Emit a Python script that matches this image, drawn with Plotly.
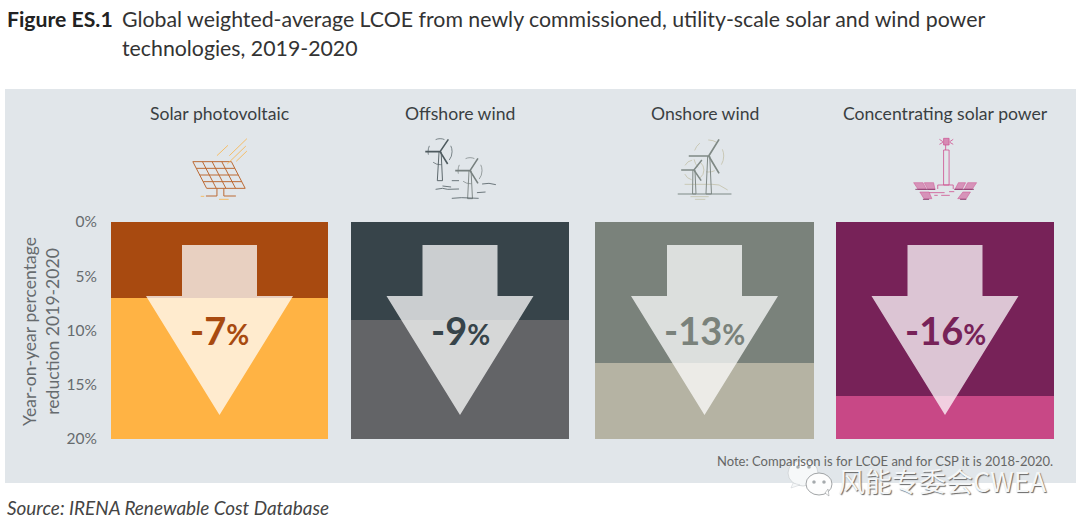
import plotly.graph_objects as go

categories = ["Solar photovoltaic", "Offshore wind", "Onshore wind", "Concentrating solar power"]
reductions = [7, 9, 13, 16]
axis_max = 20
y_ticks = [0, 5, 10, 15, 20]
y_tick_labels = ["0%", "5%", "10%", "15%", "20%"]
dark_colors = ["#A84A10", "#37444A", "#7A827B", "#772258"]
light_colors = ["#FFB344", "#636467", "#B5B3A3", "#C84886"]

W, H = 1080, 527
bar_px = [(111, 328), (351, 569), (595, 814), (836, 1054)]
top_px, bot_px = 222, 439
FONT = "Lato"
GREY = "#666B6E"


def px(x):
    return x / W


def py(y):
    return 1 - y / H


def path(pts, close=False):
    s = "M" + " L".join(f"{px(x):.5f},{py(y):.5f}" for x, y in pts)
    return s + (" Z" if close else "")


shapes = []


def line_shape(segs, color, width=1.0):
    d = " ".join(path(s) for s in segs)
    shapes.append(dict(type="path", path=d, xref="paper", yref="paper",
                       line=dict(color=color, width=width), layer="above"))


def poly(pts, fill, color=None, width=0):
    shapes.append(dict(type="path", path=path(pts, True), xref="paper", yref="paper",
                       fillcolor=fill, line=dict(color=color or fill, width=width), layer="above"))


def circ(cx, cy, rx, ry, color, width=0.8, dash="solid", fill="rgba(0,0,0,0)"):
    shapes.append(dict(type="circle", xref="paper", yref="paper",
                       x0=px(cx - rx), x1=px(cx + rx), y0=py(cy + ry), y1=py(cy - ry),
                       fillcolor=fill, line=dict(color=color, width=width, dash=dash), layer="above"))


# background panel
shapes.append(dict(type="rect", xref="paper", yref="paper", x0=px(5), x1=px(1076), y0=py(483), y1=py(89),
                   fillcolor="#E1E6EA", line=dict(width=0), layer="below"))

# arrows
for (a, b) in bar_px:
    c = (a + b) / 2
    poly([(c - 37.5, 245), (c + 37.5, 245), (c + 37.5, 296), (c + 73.5, 296), (c, 415),
          (c - 73.5, 296), (c - 37.5, 296)], "rgba(255,255,255,0.74)")


# zoom-space helpers
def Z(ox):
    return lambda x, y: (x / 2.904 + ox, y / 3 + 90)


# solar icon
z = Z(0)
OR = "#BC6A34"
YL = "#F6B858"
corners = ((560, 215), (672, 215), (712, 295), (600, 295))
segs = [[z(*p) for p in corners + (corners[0],)]]
for t in (0.25, 0.5, 0.75):
    x0 = 560 + t * 112
    segs.append([z(x0, 215), z(x0 + 40, 295)])
for t in (0.25, 0.5, 0.75):
    x0 = 560 + t * 40
    yy = 215 + t * 80
    segs.append([z(x0, yy), z(x0 + 112, yy)])
segs += [[z(630, 295), z(630, 318), z(598, 318)], [z(650, 295), z(650, 318), z(685, 318)]]
line_shape(segs, OR, 1.0)
line_shape([[z(630, 197), z(662, 166)], [z(666, 197), z(717, 146)], [z(660, 222), z(714, 168)],
            [z(686, 214), z(717, 183)], [z(583, 319), z(593, 319)], [z(636, 328), z(664, 328)]], YL, 0.9)


def turbine(z, hub, blades, base, color, bw=1.6, tw=0.9):
    line_shape([[z(*hub), z(*b)] for b in blades], color, bw)
    line_shape([[z(hub[0] - 3, hub[1]), z(base[0], base[2]), z(base[1], base[2]), z(hub[0] + 3, hub[1])]], color, tw)


# offshore icon
z = Z(0)
DK = "#4E5A5F"
c1 = z(1278, 185)
circ(c1[0], c1[1], 12, 13, DK, 0.7, "dash")
turbine(z, (1278, 185), [(1302, 148), (1300, 222), (1235, 185)], (1270, 1285, 272), DK)
c2 = z(1365, 242)
circ(c2[0], c2[1], 12, 13, "#77807F", 0.7, "dash")
turbine(z, (1365, 242), [(1388, 205), (1388, 280), (1322, 242)], (1358, 1372, 326), "#77807F")
line_shape([[z(1265, 298), z(1285, 295), z(1300, 298), z(1333, 297)], [z(1312, 272), z(1333, 272)],
            [z(1400, 282), z(1420, 280), z(1440, 284)], [z(1385, 308), z(1410, 306)],
            [z(1312, 325), z(1340, 323), z(1390, 325)], [z(1285, 288), z(1310, 291)]], DK, 0.8)

# onshore icon
z = Z(540)
GN = "#7F8985"
BG = "#C3C0A8"
c1 = z(490, 198)
circ(c1[0], c1[1], 15, 16, BG, 0.8, "dash")
c2 = z(447, 240)
circ(c2[0], c2[1], 10, 10, BG, 0.8, "dash")
line_shape([[z(420, 283), z(500, 283), z(520, 285), z(545, 300)], [z(437, 320), z(490, 320)], [z(450, 328), z(480, 328)]], BG, 0.8)
turbine(z, (490, 198), [(520, 148), (520, 250), (432, 198)], (482, 498, 312), GN, 1.7, 1.0)
turbine(z, (447, 240), [(470, 210), (468, 272), (410, 240)], (443, 453, 312), GN, 1.5, 1.0)
line_shape([[z(400, 312), z(556, 312)]], GN, 1.2)

# CSP icon
z = Z(540)
PK = "#CE4F8F"
PU = "#772258"
poly([z(1172, 145), z(1188, 145), z(1188, 165), z(1172, 165)], "rgba(206,79,143,0.6)", PK, 0.7)
line_shape([[z(1172, 180), z(1188, 180), z(1188, 285), z(1172, 285), z(1172, 180)],
            [z(1178, 165), z(1178, 180)], [z(1155, 297), z(1155, 285), z(1200, 285), z(1200, 297)],
            [z(1130, 308), z(1175, 308)], [z(1188, 305), z(1203, 305)], [z(1145, 316), z(1155, 316)],
            [z(1165, 316), z(1190, 316)], [z(1160, 148), z(1170, 155)], [z(1160, 163), z(1170, 157)],
            [z(1200, 148), z(1190, 155)], [z(1200, 163), z(1190, 157)]], PK, 0.8)
for q in [[(1085, 278), (1112, 278), (1122, 298), (1098, 298)],
          [(1116, 278), (1143, 278), (1147, 298), (1126, 298)],
          [(1215, 278), (1236, 278), (1226, 298), (1205, 298)],
          [(1242, 278), (1268, 278), (1255, 298), (1232, 298)],
          [(1103, 306), (1130, 306), (1138, 326), (1115, 326)],
          [(1228, 306), (1250, 306), (1238, 326), (1213, 326)]]:
    poly([z(*p) for p in q], "rgba(206,79,143,0.55)", PK, 0.5)
line_shape([[z(1090, 298), z(1148, 298)], [z(1203, 298), z(1260, 298)], [z(1112, 328), z(1130, 328)], [z(1220, 328), z(1238, 328)]], PU, 0.8)

# watermark icon
circ(803, 473, 15, 13, "#C9CDD0", 0.7, fill="#F6F8F9")
poly([(793, 483), (791, 488), (800, 485)], "#F6F8F9", "#C9CDD0", 0.5)
circ(819, 484, 13, 11, "#8A8E91", 0.8, fill="#FDFDFD")
poly([(825, 493), (829, 496), (828, 489)], "#FDFDFD", "#8A8E91", 0.5)
for (x, y) in [(798, 467), (809, 467), (814, 482), (824, 482)]:
    circ(x, y, 1.6, 1.6, "#A5AAAD", 0.3, fill="#A5AAAD")

fig = go.Figure()
for i, cat in enumerate(categories):
    ax = "x" if i == 0 else f"x{i+1}"
    fig.add_trace(go.Bar(x=[cat], y=[reductions[i]], xaxis=ax, yaxis="y", marker=dict(color=dark_colors[i], line=dict(width=0)),
                         name=cat, showlegend=False, offsetgroup=str(i)))
    fig.add_trace(go.Bar(x=[cat], y=[axis_max - reductions[i]], xaxis=ax, yaxis="y",
                         marker=dict(color=light_colors[i], line=dict(width=0)), name=cat, showlegend=False, offsetgroup=str(i)))

layout = dict(
    width=W, height=H, margin=dict(l=0, r=0, t=0, b=0, autoexpand=False), paper_bgcolor="white", plot_bgcolor="rgba(0,0,0,0)",
    barmode="stack", bargap=0, showlegend=False, font=dict(family=FONT, color=GREY), shapes=shapes,
    yaxis=dict(domain=[py(bot_px), py(top_px)], range=[axis_max, 0], tickmode="array", tickvals=y_ticks, ticktext=y_tick_labels,
               showgrid=False, zeroline=False, showline=False, ticks="outside", ticklen=10, tickcolor="rgba(0,0,0,0)",
               tickfont=dict(size=15.5, color=GREY, family=FONT), anchor="x", automargin=False),
)
for i, (a, b) in enumerate(bar_px):
    key = "xaxis" if i == 0 else f"xaxis{i+1}"
    layout[key] = dict(domain=[px(a), px(b)], visible=False, anchor="y", range=[-0.5, 0.5], type="category", automargin=False)


def note(text, x, y, size, color="#333", anchor="center", **kw):
    f = dict(size=size, color=color, family=kw.pop("family", FONT))
    f.update(kw.pop("font", {}))
    return dict(text=text, x=px(x), y=py(y), xref="paper", yref="paper", xanchor=anchor, yanchor="middle",
                showarrow=False, font=f, **kw)


ann = [
    note("<b>Figure ES.1</b>", 4.5, 19, 21.2, "#222", "left"),
    note("Global weighted-average LCOE from newly commissioned, utility-scale solar and wind power", 120, 19, 21.3, "#333", "left"),
    note("technologies, 2019-2020", 120, 48, 21.3, "#333", "left"),
    note("<i>Source: IRENA Renewable Cost Database</i>", 5, 507, 18.9, "#444", "left"),
    note("Note: Comparison is for LCOE and for CSP it is 2018-2020.", 1055, 461, 13, "#666", "right"),
    note("风能专委会CWEA", 942, 480, 27, "#F4F6F7", family="Noto Sans CJK SC",
         font=dict(shadow="1px 1px 1px #666")),
    note("Year-on-year percentage<br>reduction 2019-2020", 41, 332, 17.6, GREY, textangle=-90),
]
for i, cat in enumerate(categories):
    a, b = bar_px[i]
    c = (a + b) / 2
    ann.append(note(cat, c, 113.5, 17.6, "#3A3F42"))
    ann.append(note(f"<b>-{reductions[i]}<span style='font-size:28px'>%</span></b>", c, 330, 38, dark_colors[i]))
layout["annotations"] = ann
fig.update_layout(**layout)
fig.write_html("out.html", post_script="document.body.style.margin='0';", config={"displayModeBar": False})
